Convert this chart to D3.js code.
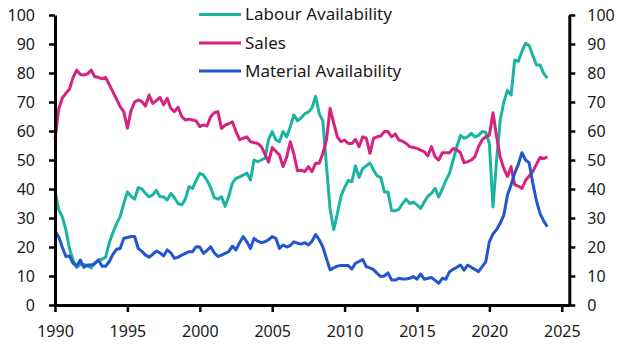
<!DOCTYPE html>
<html>
<head>
<meta charset="utf-8">
<script src="https://cdn.jsdelivr.net/npm/d3@7"></script>
<style>
  html, body { margin: 0; padding: 0; background: #fff; }
  svg { display: block; }
  text { font-family: "Noto Sans", "Open Sans", sans-serif; fill: #1a1a1a; }
</style>
</head>
<body>
<svg id="chart" width="627" height="353"></svg>
<script>
// ---- Data (quarterly, 1990 Q1 to 2024 Q1) ----
const startYear = 1990;
const seriesNames = ["Labour Availability", "Sales", "Material Availability"];
const seriesColors = ["#19b5a0", "#d5237f", "#2256cf"];

const labourAvailability = [
  39.5, 33, 30.5, 26,
  19.5, 15.5, 13, 14,
  14, 13.5, 12.8, 14.5,
  15.5, 15.8, 16.5, 21.5,
  25, 28, 30.5, 35,
  39, 37.5, 36.5, 40.5,
  40, 38.5, 37.3, 38,
  39.5, 37.3, 37.3, 36.2,
  38.5, 37, 35, 34.5,
  36.5, 40.8, 40.2, 43,
  45.4, 44.8, 43, 40.5,
  37, 36.5, 37.3, 34,
  37.5, 42, 43.7, 44.2,
  44.8, 45.5, 43.1, 50,
  49.4, 50, 50.6, 57,
  59.8, 57, 56.3, 59.8,
  58, 61.5, 65.5, 63.5,
  64.5, 66, 66.5, 68,
  72, 66, 63.5, 48,
  33, 26, 31.5, 37.5,
  40.5, 43, 42.5, 48,
  44, 47, 48, 49,
  46.5, 44.5, 44, 39,
  39, 32.5, 32.5, 33,
  35, 36.5, 35, 35.5,
  34.5, 33.3, 35.5, 37.5,
  38.5, 40.2, 37.3, 40,
  43, 45.5, 50, 54.5,
  58.5, 57.5, 58, 59.2,
  58, 58.5, 59.8, 59.5,
  55.7, 33.8, 50, 63.8,
  70, 74, 72.4, 84.5,
  84, 87.5, 90.2, 89.5,
  86, 82.8, 82.8, 79.9,
  78.2
];

const sales = [
  57, 67.5, 71.3, 73,
  74.5, 78.5, 81, 79.5,
  79.3, 79.7, 81, 78.7,
  78.5, 78, 78.5, 76,
  73.5, 71, 68.4, 66.7,
  61, 67, 70, 70.7,
  70.1, 68.6, 72.4, 69.5,
  70.5, 71.6, 69, 71.3,
  67.8, 66.7, 68.2, 65,
  63.8, 64.1, 63.8, 63.5,
  61.5, 62.1, 61.7, 64.9,
  66.3, 66.7, 60.9, 62,
  62.5, 63.2, 59.8, 57,
  57.5, 58, 56.3, 56,
  55.7, 54.6, 52, 49.3,
  54.3, 53, 51.7, 47.7,
  51, 56.3, 52, 46.3,
  46.5, 46, 47.7, 46,
  48.9, 48.9, 52.3, 57,
  67.8, 62.7, 58, 56.3,
  56.9, 55.7, 55.7, 57.1,
  54.6, 58, 57.5, 52.3,
  57.5, 58, 58.3, 59.8,
  59.8, 58, 59, 56.9,
  56.5, 55.7, 54.6, 54.3,
  54, 53.4, 52.9, 51.4,
  54.6, 51.1, 50, 52.5,
  52.5, 52.5, 54, 53.5,
  52.5, 49.1, 49.4, 50,
  51.1, 54.6, 56.9, 58,
  58.6, 66.3, 58, 51,
  47, 44.3, 47.7, 41.4,
  41, 40.2, 43, 44.5,
  46, 48.5, 50.9, 50.5,
  51.1
];

const materialAvailability = [
  25.5, 23.6, 20, 16.7,
  16.9, 14.4, 13.4, 15.5,
  13, 13.8, 13.8, 14.2,
  15.5, 13.4, 13.4, 15,
  17.5, 19.2, 19.5, 23,
  23.3, 23.6, 23.6, 19.5,
  18.5, 17.2, 16.5, 17.5,
  18.6, 18, 16.9, 19,
  18, 16.1, 16.5, 17.2,
  17.8, 18.4, 18.4, 20.1,
  20, 17.8, 18.8, 20.1,
  18, 16.7, 17.2, 17.8,
  18.4, 20.3, 19, 21.5,
  23.6, 21.8, 19.5, 23,
  22, 21.5, 21.8, 22.5,
  23.6, 23, 19.5, 20.7,
  20, 20.5, 21.8, 21.3,
  21, 21.5, 20.7, 22,
  24.3, 22.5, 20, 16,
  12.1, 12.8, 13.4, 13.6,
  13.6, 13.6, 12.4, 14.4,
  15, 15.7, 13.2, 12.8,
  12.2, 10.9, 9.8, 10,
  11.1, 8.6, 8.6, 9.2,
  9, 9, 9.2, 9.8,
  8.9, 10.7, 8.9, 9.2,
  9.5, 8.5, 7.5, 9.2,
  8.9, 11.5, 12.3, 13,
  13.8, 12, 13.8, 13,
  12.3, 11.5, 13.2, 14.9,
  21.8, 24.5, 26, 28.2,
  31, 37.9, 41.5, 45.5,
  48.5, 52.5, 50, 49,
  42, 36, 31.5, 29,
  27
];

const xTickYears = [1990, 1995, 2000, 2005, 2010, 2015, 2020, 2025];
const yTickValues = [0, 10, 20, 30, 40, 50, 60, 70, 80, 90, 100];

// ---- Chart ----
const svg = d3.select("#chart");
const x = d3.scaleLinear().domain([1990, 2025.52]).range([55, 569.3]);
const y = d3.scaleLinear().domain([0, 100]).range([305, 15]);

const quarterTime = i => startYear + i / 4;
const allSeries = [labourAvailability, sales, materialAvailability];

const line = d3.line()
  .x((d, i) => x(quarterTime(i)))
  .y(d => y(d));

const plot = svg.append("g");
allSeries.forEach((vals, k) => {
  plot.append("path")
    .datum(vals)
    .attr("fill", "none")
    .attr("stroke", seriesColors[k])
    .attr("stroke-width", 3)
    .attr("stroke-linejoin", "round")
    .attr("stroke-linecap", "butt")
    .attr("d", line);
});

function styleAxis(g) {
  g.select(".domain").attr("stroke", "#000").attr("stroke-width", 3);
  g.selectAll(".tick line").attr("stroke", "#000").attr("stroke-width", 2.5);
  g.selectAll(".tick text").style("font-size", "16px").attr("fill", "#1a1a1a");
}

const xAxis = svg.append("g")
  .attr("transform", `translate(0,${y(0)})`)
  .call(d3.axisBottom(x).tickValues(xTickYears).tickFormat(d3.format("d"))
        .tickSize(7).tickSizeOuter(0).tickPadding(14));
styleAxis(xAxis);

const yLeft = svg.append("g")
  .attr("transform", `translate(${x(1990)},0)`)
  .call(d3.axisLeft(y).tickValues(yTickValues).tickSize(6).tickSizeOuter(0).tickPadding(14));
styleAxis(yLeft);

const yRight = svg.append("g")
  .attr("transform", `translate(${x(2025.52)},0)`)
  .call(d3.axisRight(y).tickValues(yTickValues).tickSize(6).tickSizeOuter(0).tickPadding(12));
styleAxis(yRight);

// ---- Legend ----
const legend = svg.append("g");
const legendY = [14.5, 43, 71];
seriesNames.forEach((name, k) => {
  legend.append("line")
    .attr("x1", 199).attr("x2", 241)
    .attr("y1", legendY[k]).attr("y2", legendY[k])
    .attr("stroke", seriesColors[k]).attr("stroke-width", 3);
  legend.append("text")
    .attr("x", 245).attr("y", legendY[k])
    .attr("dy", "0.35em")
    .style("font-size", "17px")
    .text(name);
});
</script>
</body>
</html>
